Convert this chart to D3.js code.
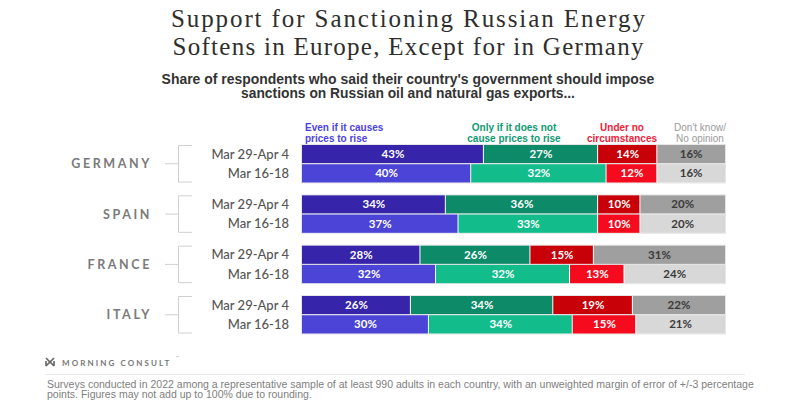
<!DOCTYPE html>
<html><head><meta charset="utf-8">
<script src="https://cdn.jsdelivr.net/npm/d3@7/dist/d3.min.js"></script>
<style>
body{margin:0;background:#fff;}
svg{display:block;}
</style></head>
<body>
<svg id="chart" width="800" height="404"></svg>
<script>
// ---- data ----
const countries = ["GERMANY", "SPAIN", "FRANCE", "ITALY"];
const periods = ["Mar 29-Apr 4", "Mar 16-18"];
const seriesNames = ["Even if it causes prices to rise", "Only if it does not cause prices to rise", "Under no circumstances", "Don't know/ No opinion"];
const evenIf   = [[43, 40], [34, 37], [28, 32], [26, 30]];
const onlyIf   = [[27, 32], [36, 33], [26, 32], [34, 34]];
const underNo  = [[14, 12], [10, 10], [15, 13], [19, 15]];
const dontKnow = [[16, 16], [20, 20], [31, 24], [22, 21]];

const seriesData = [evenIf, onlyIf, underNo, dontKnow];
const darkColors  = ["#3624aa", "#0d8a68", "#c80008", "#9f9f9f"];
const lightColors = ["#4b44d6", "#12bd8b", "#f50a1e", "#d8d8d8"];
const textColors  = ["#fff", "#fff", "#fff", "#3a3a3a"];

const svg = d3.select("#chart");
const SANS = "Lato, 'Open Sans', 'Liberation Sans', sans-serif";
const ARIAL = "'Liberation Sans', Arial, sans-serif";

function fitWidth(sel, target) {
  const fs = parseFloat(sel.attr("font-size"));
  const w = sel.node().getComputedTextLength();
  sel.attr("font-size", (fs * target / w).toFixed(2));
}

// ---- title ----
const titleLines = ["Support for Sanctioning Russian Energy", "Softens in Europe, Except for in Germany"];
const titleWidths = [474, 471];
titleLines.forEach((t, i) => {
  svg.append("text").attr("x", 408).attr("y", 26.5 + i * 28)
    .attr("text-anchor", "middle").attr("font-family", "'Liberation Serif', 'DejaVu Serif', serif")
    .attr("font-size", 25).attr("fill", "#2e2e2e")
    .attr("textLength", titleWidths[i]).attr("lengthAdjust", "spacing").text(t);
});

const subLines = ["Share of respondents who said their country's government should impose", "sanctions on Russian oil and natural gas exports..."];
const subWidths = [493, 334];
subLines.forEach((t, i) => {
  const s = svg.append("text").attr("x", 408).attr("y", 83.5 + i * 14.5)
    .attr("text-anchor", "middle").attr("font-family", ARIAL).attr("font-weight", 700)
    .attr("font-size", 12).attr("fill", "#333").text(t);
  fitWidth(s, subWidths[i]);
});

// ---- scales ----
const x0 = 302, x1 = 725;
const yOuter = d3.scaleBand().domain(countries).range([145, 333.5]).paddingInner(0.255);
const yInner = d3.scaleBand().domain(periods).range([0, yOuter.bandwidth()]).paddingInner(0.05);

// ---- legend ----
const legendSpecs = [
  {lines: ["Even if it causes", "prices to rise"], x: 305, anchor: "start", color: "#4d3fe6", weight: 700, fit: 0, w: 91},
  {lines: ["Only if it does not", "cause prices to rise"], x: 514, anchor: "middle", color: "#0f9a72", weight: 700, fit: 1, w: 110},
  {lines: ["Under no", "circumstances"], x: 622, anchor: "middle", color: "#f2223a", weight: 700, fit: 1, w: 81},
  {lines: ["Don't know/", "No opinion"], x: 700, anchor: "middle", color: "#9a9a9a", weight: 400, fit: 0, w: 57}
];
legendSpecs.forEach((l) => {
  const ts = l.lines.map((t, i) => svg.append("text").attr("x", l.x).attr("y", 130.5 + i * 11)
      .attr("text-anchor", l.anchor).attr("font-family", ARIAL).attr("font-weight", l.weight)
      .attr("font-size", 10).attr("fill", l.color).text(t));
  fitWidth(ts[l.fit], l.w);
  ts.forEach(t => t.attr("font-size", Math.min(10, +ts[l.fit].attr("font-size"))));
});

// ---- groups ----
countries.forEach((c, ci) => {
  const gy = yOuter(c);
  const g = svg.append("g").attr("transform", `translate(0,${gy})`);
  const bw = yOuter.bandwidth();
  const mid = bw / 2;

  g.append("text").attr("x", 152).attr("y", mid + 4.5).attr("text-anchor", "end")
    .attr("font-family", SANS).attr("font-weight", 700).attr("font-size", 12.5)
    .attr("letter-spacing", 2.6).attr("fill", "#7a7a7a").text(c);

  // bracket
  const br = g.append("g").attr("stroke", "#d0d0d0").attr("stroke-width", 1).attr("fill", "none");
  br.append("line").attr("x1", 165).attr("x2", 178).attr("y1", mid).attr("y2", mid);
  br.append("path").attr("d", `M192,0.5 H178.5 V${bw - 0.5} H192`);

  periods.forEach((p, pi) => {
    const ry = yInner(p);
    const rh = yInner.bandwidth();
    g.append("text").attr("x", 289).attr("y", ry + rh / 2 + 4.5).attr("text-anchor", "end")
      .attr("font-family", SANS).attr("font-weight", 500).attr("font-size", 13)
      .attr("fill", "#555").text(p);

    const vals = seriesData.map(s => s[ci][pi]);
    const total = d3.sum(vals);
    const x = d3.scaleLinear().domain([0, total]).range([x0, x1]);
    const cum = d3.cumsum(vals);
    const colors = pi === 0 ? darkColors : lightColors;

    // faint outline
    g.append("rect").attr("x", x0 - 0.5).attr("y", ry - 0.5).attr("width", x1 - x0 + 1).attr("height", rh + 1)
      .attr("fill", "none").attr("stroke", "#e6e6e6").attr("stroke-width", 1);

    vals.forEach((v, si) => {
      const start = si === 0 ? 0 : cum[si - 1];
      const xs = x(start), xe = x(cum[si]);
      g.append("rect").attr("x", xs).attr("y", ry).attr("width", Math.max(0, xe - xs - (si < 3 ? 1 : 0)))
        .attr("height", rh).attr("fill", colors[si]);
      g.append("text").attr("x", (xs + xe) / 2).attr("y", ry + rh / 2 + 4)
        .attr("text-anchor", "middle").attr("font-family", SANS).attr("font-weight", 700)
        .attr("font-size", 11.5).attr("fill", textColors[si]).text(v + "%");
    });
  });
});

// ---- footer ----
const logo = svg.append("g").attr("transform", "translate(46,358)");
logo.append("path").attr("d", "M0,0 L4,4 L8,0 M0,8 L4,4 L8,8 M0,3 L0,8 M8,3 L8,8")
  .attr("stroke", "#666").attr("stroke-width", 1.6).attr("fill", "none");
svg.append("text").attr("x", 62).attr("y", 365.5).attr("font-family", SANS).attr("font-weight", 700)
  .attr("font-size", 8).attr("letter-spacing", 2.1).attr("fill", "#777").text("MORNING CONSULT");
svg.append("text").attr("x", 176).attr("y", 359).attr("font-family", SANS)
  .attr("font-size", 4).attr("fill", "#aaa").text("™");

svg.append("line").attr("x1", 45).attr("x2", 745).attr("y1", 374.5).attr("y2", 374.5)
  .attr("stroke", "#eaeaea").attr("stroke-width", 1);

const foot = [
  "Surveys conducted in 2022 among a representative sample of at least 990 adults in each country, with an unweighted margin of error of +/-3 percentage",
  "points. Figures may not add up to 100% due to rounding."
];
const f1 = svg.append("text").attr("x", 47).attr("y", 387.5).attr("font-family", ARIAL)
  .attr("font-size", 9).attr("fill", "#808080").text(foot[0]);
fitWidth(f1, 708);
svg.append("text").attr("x", 47).attr("y", 398).attr("font-family", ARIAL)
  .attr("font-size", f1.attr("font-size")).attr("fill", "#808080").text(foot[1]);
</script>
</body></html>
